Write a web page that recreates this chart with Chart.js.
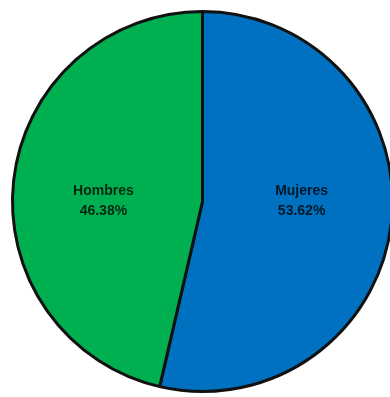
<!DOCTYPE html>
<html>
<head>
<meta charset="utf-8">
<script src="https://cdn.jsdelivr.net/npm/chart.js@4/dist/chart.umd.min.js"></script>
<style>
    html, body { margin: 0; padding: 0; background: #fff; overflow: hidden; }
    #wrap { position: relative; width: 394px; height: 397px; }
</style>
</head>
<body>
<div id="wrap"><canvas id="graficoPizza"></canvas></div>
<script>
// ========== DADOS ==========
const categorias = ['Mujeres', 'Hombres'];
const porcentajes = [53.62, 46.38];
const colores = ['#0070C0', '#00B050'];

// ========== ROTULOS NAS FATIAS ==========
const rotulos = {
    id: 'rotulos',
    afterDatasetsDraw(chart) {
        const ctx = chart.ctx;
        const meta = chart.getDatasetMeta(0);
        ctx.save();
        ctx.font = 'bold 14px "Liberation Sans", Arial, sans-serif';
        ctx.textAlign = 'center';
        ctx.textBaseline = 'middle';
        ctx.fillStyle = 'rgba(0, 0, 0, 0.78)';
        meta.data.forEach((arc, i) => {
            const pos = arc.tooltipPosition();
            // leve ajuste horizontal para afastar o rótulo do centro
            const x = arc.x + (pos.x - arc.x) * 1.05;
            const valor = chart.data.datasets[0].data[i];
            ctx.fillText(chart.data.labels[i], x, arc.y - 10);
            ctx.fillText(valor.toFixed(2) + '%', x, arc.y + 10);
        });
        ctx.restore();
    }
};

// ========== GRAFICO ==========
new Chart(document.getElementById('graficoPizza').getContext('2d'), {
    type: 'pie',
    data: {
        labels: categorias,
        datasets: [{
            data: porcentajes,
            backgroundColor: colores,
            borderColor: '#111',
            borderWidth: 3
        }]
    },
    options: {
        responsive: true,
        maintainAspectRatio: false,
        animation: false,
        layout: { padding: { left: 11, right: 0, top: 10, bottom: 4 } },
        plugins: {
            legend: { display: false },
            tooltip: { enabled: false }
        }
    },
    plugins: [rotulos]
});
</script>
</body>
</html>
